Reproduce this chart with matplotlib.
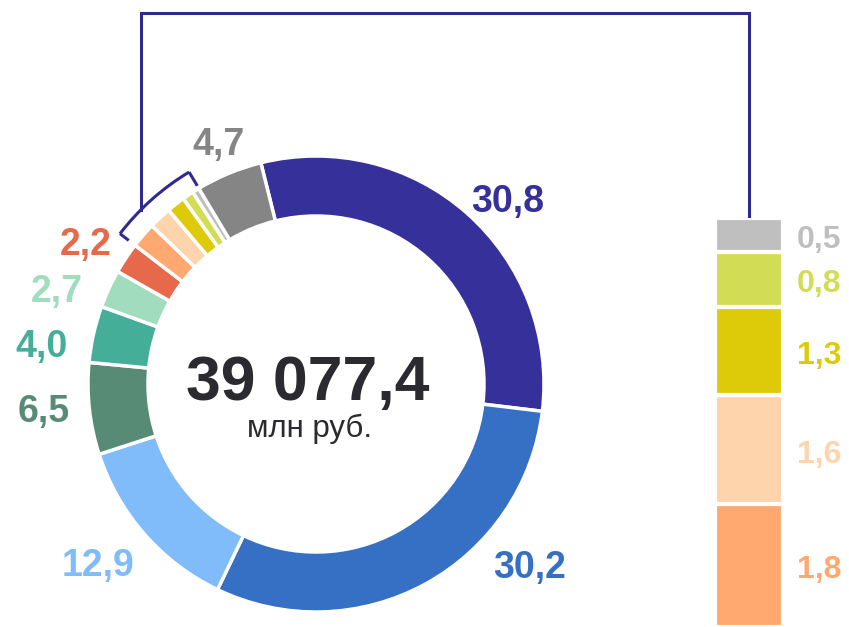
import numpy as np
import matplotlib.pyplot as plt
from matplotlib.patches import Arc

plt.rcParams['font.family'] = ['Liberation Sans', 'DejaVu Sans']

# donut shares, % (clockwise from top)
shares = [30.8, 30.2, 12.9, 6.5, 4.0, 2.7, 2.2, 1.8, 1.6, 1.3, 0.8, 0.5, 4.7]
share_labels = ['30,8', '30,2', '12,9', '6,5', '4,0', '2,7', '2,2',
                '1,8', '1,6', '1,3', '0,8', '0,5', '4,7']
colors = ['#36309A', '#3570C4', '#80BBFA', '#578B76', '#45AE99', '#A1DCBE',
          '#E5694A', '#FFA86F', '#FDD4AC', '#DDCB0A', '#D2DD55', '#BFBFBF',
          '#858585']
# small segments shown as a stacked bar (indices into shares)
detail_idx = [7, 8, 9, 10, 11]
total_text = '39 077,4'
unit_text = 'млн руб.'

W, H = 849, 627
line_col = '#2E2A8F'


def Y(y):
    return H - y


fig = plt.figure(figsize=(W / 100, H / 100), dpi=100)
ax = fig.add_axes([0, 0, 1, 1])

cx, cy, R = 316, Y(384), 228
wedges, _ = ax.pie(shares, colors=colors, startangle=104, counterclock=False,
                   radius=R, center=(cx, cy),
                   wedgeprops=dict(width=60, edgecolor='white', linewidth=2.5))
ax.set_xlim(0, W)
ax.set_ylim(0, H)
ax.set_aspect('equal')
ax.axis('off')

# value labels around donut (positions in picture pixels)
label_pos = [(508, 202), (530, 568), (98, 566), (44, 412), (42, 347),
             (57, 292), (86, 245), None, None, None, None, None, (219, 145)]
for lab, pos, c in zip(share_labels, label_pos, colors):
    if pos is None:
        continue
    ax.text(pos[0], Y(pos[1]), lab, color=c, fontsize=27, fontweight='bold',
            ha='center', va='center')

# centre text
ax.text(308, Y(384), total_text, fontsize=45, fontweight='bold',
        color='#2B2B2F', ha='center', va='center')
ax.text(310, Y(429), unit_text, fontsize=22.5, color='#2B2B2F',
        ha='center', va='center')

# bracket over the small segments
angs = [w.theta1 for w in wedges[7:12]] + [w.theta2 for w in wedges[7:12]]
a0, a1 = min(angs), max(angs)
rb = 247
ax.add_patch(Arc((cx, cy), 2 * rb, 2 * rb, theta1=a0, theta2=a1,
                 color=line_col, lw=2.2))
for a, r_in in ((a0, 231), (a1, 236)):
    t = np.radians(a)
    ax.plot([cx + rb * np.cos(t), cx + r_in * np.cos(t)],
            [cy + rb * np.sin(t), cy + r_in * np.sin(t)],
            color=line_col, lw=2.2, solid_capstyle='butt')
lx = 141
ly = cy + np.sqrt(rb ** 2 - (lx - cx) ** 2)
ax.plot([lx, lx, 749, 749], [ly, Y(13), Y(13), Y(216)], color=line_col,
        lw=2.2, solid_joinstyle='miter')

# stacked bar of small segments
bax = fig.add_axes([715 / W, 0, 68 / W, (H - 218) / H])
vals = [shares[i] for i in detail_idx]
bottom = 0.0
for i, v in zip(detail_idx, vals):
    bax.bar(0, v, bottom=bottom, width=1, color=colors[i],
            edgecolor='white', linewidth=3)
    bax.text(1.53, bottom + v / 2 - 0.07, share_labels[i], color=colors[i],
             fontsize=23, fontweight='bold', ha='center', va='center',
             transform=bax.get_yaxis_transform(), clip_on=False)
    bottom += v
bax.set_xlim(-0.5, 0.5)
bax.set_ylim(0, sum(vals))
bax.axis('off')

fig.savefig('out.png', dpi=100)
